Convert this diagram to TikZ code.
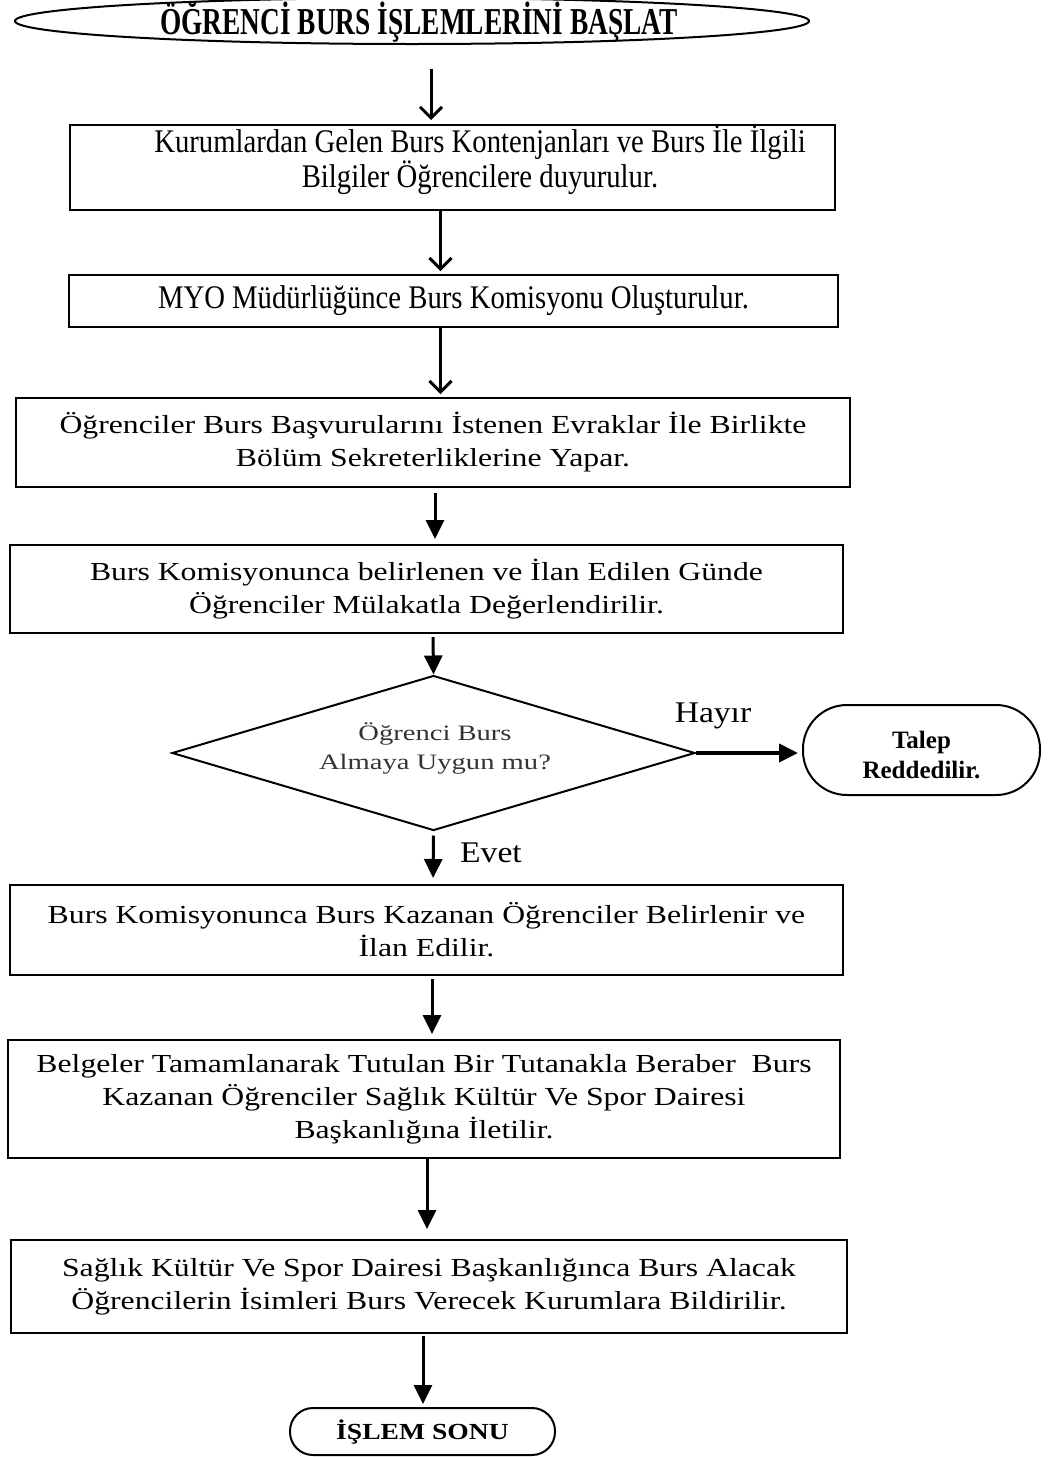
\documentclass[tikz,border=0pt]{standalone}
\usepackage{fontspec}
\setmainfont{Liberation Serif}
\newfontfamily\titlefont[FakeStretch=0.72]{Liberation Serif}
\newfontfamily\narrowfont[FakeStretch=0.87]{Liberation Serif}
\newfontfamily\widefont[FakeStretch=1.22]{Liberation Serif}
\newfontfamily\qfont[FakeStretch=1.3]{Liberation Serif}
\newfontfamily\termfont[FakeStretch=1.0]{Liberation Serif}
\newfontfamily\endfont[FakeStretch=1.2]{Liberation Serif}
\newfontfamily\labfont[FakeStretch=1.12]{Liberation Serif}
\usetikzlibrary{shapes.geometric,arrows.meta}

\tikzset{
  box/.style={draw, line width=2pt, rectangle, inner sep=0pt, align=center},
  plaintext/.style={font=\narrowfont\fontsize{33}{31}\selectfont, align=center, inner sep=0pt},
  widetext/.style={font=\widefont\fontsize{26}{33}\selectfont},
  term/.style={draw, line width=2pt, rectangle, inner sep=0pt, align=center},
  openarr/.style={line width=3pt, -{Straight Barb[length=11pt,width=22pt]}},
  fillarr/.style={line width=3pt, -{Triangle[length=19pt,width=18pt]}},
  branch/.style={font=\labfont\fontsize{30}{32}\selectfont, inner sep=0pt}
}

\begin{document}
\begin{tikzpicture}[x=1pt, y=-1pt]
  \useasboundingbox (0,0) rectangle (1061,1457);

  % start terminal
  \node[draw, line width=2pt, ellipse, minimum width=794pt, minimum height=46pt, inner sep=0pt]
    (start) at (412,21) {};
  \node[font=\titlefont\bfseries\fontsize{38}{40}\selectfont, inner sep=0pt]
    (starttext) at (419,22) {ÖĞRENCİ BURS İŞLEMLERİNİ BAŞLAT};

  % process steps
  \node[box, minimum width=765pt, minimum height=85pt] (b1) at (452.5,167.5) {};
  \node[plaintext] (b1t) at (480,160) {Kurumlardan Gelen Burs Kontenjanları ve Burs İle İlgili\\Bilgiler Öğrencilere duyurulur.};

  \node[box, plaintext, draw, line width=2pt, minimum width=769pt, minimum height=52pt] (b2) at (453.5,301)
    {MYO Müdürlüğünce Burs Komisyonu Oluşturulur.};

  \node[box, widetext, minimum width=834pt, minimum height=89pt] (b3) at (433,442.5)
    {Öğrenciler Burs Başvurularını İstenen Evraklar İle Birlikte\\Bölüm Sekreterliklerine Yapar.};

  \node[box, widetext, minimum width=833pt, minimum height=88pt] (b4) at (426.5,589)
    {Burs Komisyonunca belirlenen ve İlan Edilen Günde\\Öğrenciler Mülakatla Değerlendirilir.};

  % decision
  \node[draw, line width=2pt, diamond, aspect=3.4, minimum width=523pt, minimum height=155pt,
        inner sep=0pt, align=center, text=black!80, font=\qfont\fontsize{22}{29}\selectfont]
    (dec) at (433.5,753) {};
  \node[text=black!80, font=\qfont\fontsize{22}{29}\selectfont, align=center, inner sep=0pt]
    (dect) at (435,748) {Öğrenci Burs\\Almaya Uygun mu?};

  \node[term, minimum width=237pt, minimum height=90pt, rounded corners=44pt] (rej) at (921.5,750) {};
  \node[font=\termfont\bfseries\fontsize{25}{30}\selectfont, align=center, inner sep=0pt]
    (rejt) at (921.5,755) {Talep\\Reddedilir.};

  \node[box, widetext, minimum width=833pt, minimum height=90pt] (b5) at (426.5,930)
    {Burs Komisyonunca Burs Kazanan Öğrenciler Belirlenir ve\\İlan Edilir.};

  \node[box, widetext, minimum width=832pt, minimum height=118pt] (b6) at (424,1099)
    {Belgeler Tamamlanarak Tutulan Bir Tutanakla Beraber\ \ Burs\\Kazanan Öğrenciler Sağlık Kültür Ve Spor Dairesi\\Başkanlığına İletilir.};

  \node[box, widetext, minimum width=836pt, minimum height=93pt] (b7) at (429,1286.5)
    {Sağlık Kültür Ve Spor Dairesi Başkanlığınca Burs Alacak\\Öğrencilerin İsimleri Burs Verecek Kurumlara Bildirilir.};

  \node[term, minimum width=265pt, minimum height=47pt, rounded corners=23pt,
        font=\endfont\bfseries\fontsize{23}{26}\selectfont] (stop) at (422.5,1431.5) {İŞLEM SONU};

  % connectors
  \draw[openarr, shorten <=24pt, shorten >=4pt] ([xshift=19pt]start.south) -- ([xshift=-21.5pt]b1.north);
  \draw[openarr, shorten >=3pt] ([xshift=-12pt]b1.south) -- ([xshift=-13pt]b2.north);
  \draw[openarr, shorten >=3pt] ([xshift=-13pt]b2.south) -- ([xshift=7.5pt]b3.north);
  \draw[fillarr, shorten <=5pt, shorten >=5pt] ([xshift=2pt]b3.south) -- ([xshift=8.5pt]b4.north);
  \draw[fillarr, shorten <=3pt] ([xshift=6.5pt]b4.south) -- (dec.north);
  \draw[line width=4pt, -{Triangle[length=19pt,width=18pt]}, shorten >=4pt] (dec.east) -- (dec.east -| rej.west);
  \node[branch] (no) at (713,716) {Hayır};
  \draw[fillarr, shorten <=4pt, shorten >=6pt] (dec.south) -- ([xshift=6.5pt]b5.north);
  \node[branch] (yes) at (491,853) {Evet};
  \draw[fillarr, shorten <=3pt, shorten >=5pt] ([xshift=5.5pt]b5.south) -- ([xshift=8pt]b6.north);
  \draw[fillarr, shorten >=10pt] ([xshift=3pt]b6.south) -- ([xshift=-2pt]b7.north);
  \draw[fillarr, shorten <=2pt, shorten >=3pt] ([xshift=-6pt]b7.south) -- ([xshift=0.5pt]stop.north);
\end{tikzpicture}
\end{document}
